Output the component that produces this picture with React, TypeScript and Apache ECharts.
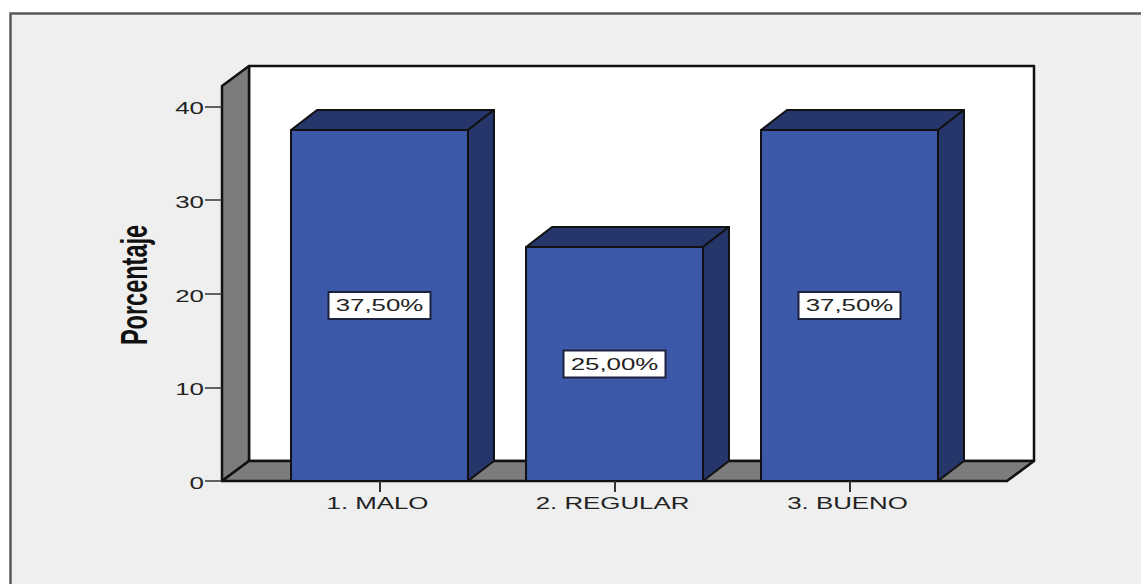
import React, { useEffect, useRef } from "react";
import * as echarts from "echarts";

const categories = ["1. MALO", "2. REGULAR", "3. BUENO"];
const percentages = [37.5, 25, 37.5];
const yTicks = [0, 10, 20, 30, 40];
const yTitle = "Porcentaje";

const BLUE_FRONT = "#3c58a8";
const BLUE_SIDE = "#26366b";
const GREY = "#7c7c7c";
const INK = "#111111";
const TEXT = "#222222";
const FONT = "'Liberation Sans', Arial, sans-serif";
const WIDE = 1.52; // horizontal stretch of all horizontal text

const AXIS_OFFSET = 40; // gap between the first band and the wall's front edge
const WALL_DX = 27;
const BAR_DX = 26;
const DEPTH_DY = -20;

const wideText = (text: string, x: number, y: number, align: string) => ({
  type: "text",
  x,
  y,
  scaleX: WIDE,
  silent: true,
  style: {
    text,
    align,
    verticalAlign: "middle",
    fontFamily: FONT,
    fontSize: 17,
    fill: TEXT,
  },
});

const face = (points: number[][], fill: string, lineWidth = 2) => ({
  type: "polygon",
  shape: { points },
  style: { fill, stroke: INK, lineWidth, lineJoin: "round" },
});

// Back wall, left wall and floor of the 3D box behind the bars
const renderRoom = (params: any, api: any) => {
  const cs = params.coordSys;
  const left = cs.x - AXIS_OFFSET;
  const right = cs.x + cs.width + AXIS_OFFSET;
  const top = cs.y;
  const base = cs.y + cs.height;
  const dx = WALL_DX;
  const dy = DEPTH_DY;
  return {
    type: "group",
    children: [
      face([[left + dx, top + dy], [right + dx, top + dy], [right + dx, base + dy], [left + dx, base + dy]], "#ffffff", 2.5),
      face([[left, top], [left + dx, top + dy], [left + dx, base + dy], [left, base]], GREY, 2.5),
      face([[left, base], [left + dx, base + dy], [right + dx, base + dy], [right, base]], GREY, 2.5),
    ],
  };
};

// One 3D bar: front, top and side faces plus its boxed percentage
const renderBar = (_params: any, api: any) => {
  const cat = api.value(0);
  const val = api.value(1);
  const [cx, yTop] = api.coord([cat, val]);
  const [, yBase] = api.coord([cat, 0]);
  const half = (api.size([1, 0])[0] * 0.753) / 2;
  const x0 = cx - half;
  const x1 = cx + half;
  const dx = BAR_DX;
  const dy = DEPTH_DY;
  const midY = (yTop + yBase) / 2;
  const label = val.toFixed(2).replace(".", ",") + "%";
  return {
    type: "group",
    children: [
      face([[x0, yTop], [x0 + dx, yTop + dy], [x1 + dx, yTop + dy], [x1, yTop]], BLUE_SIDE),
      face([[x1, yTop], [x1 + dx, yTop + dy], [x1 + dx, yBase + dy], [x1, yBase]], BLUE_SIDE),
      face([[x0, yTop], [x1, yTop], [x1, yBase], [x0, yBase]], BLUE_FRONT),
      {
        type: "rect",
        shape: { x: cx - 51, y: midY - 13.5, width: 102, height: 27 },
        style: { fill: "#ffffff", stroke: "#1c2340", lineWidth: 2 },
      },
      wideText(label, cx, midY, "center"),
    ],
  };
};

const renderCategoryLabel = (_params: any, api: any) => {
  const [cx] = api.coord([api.value(0), 0]);
  const cs = _params.coordSys;
  return wideText(categories[api.value(0)], cx - 2, cs.y + cs.height + 22, "center");
};

const renderTickLabel = (_params: any, api: any) => {
  const [, y] = api.coord([0, api.value(0)]);
  return wideText(String(api.value(0)), _params.coordSys.x - AXIS_OFFSET - 18, y + 2, "right");
};

export default function App() {
  const ref = useRef<HTMLDivElement>(null);

  useEffect(() => {
    const chart = echarts.init(ref.current!, null, { renderer: "svg" });
    chart.setOption({
      animation: false,
      backgroundColor: "#ffffff",
      graphic: [
        {
          type: "rect",
          shape: { x: 10.5, y: 13.5, width: 1300, height: 800 },
          style: { fill: "#efefef", stroke: "#5a5a5a", lineWidth: 2.5 },
          silent: true,
        },
        {
          type: "text",
          x: 134,
          y: 285,
          rotation: Math.PI / 2,
          scaleY: 1.6,
          z: 5,
          silent: true,
          style: {
            text: yTitle,
            align: "center",
            verticalAlign: "middle",
            fontFamily: FONT,
            fontWeight: "bold",
            fontSize: 23.5,
            fill: "#111111",
          },
        },
      ],
      grid: { left: 262, top: 86, width: 705, height: 395 },
      xAxis: {
        type: "category",
        data: categories,
        z: 5,
        axisLine: { show: false },
        axisLabel: { show: false },
        axisTick: {
          show: true,
          alignWithLabel: true,
          length: 11,
          lineStyle: { color: "#333333", width: 2 },
        },
      },
      yAxis: {
        type: "value",
        min: 0,
        max: 42.2,
        interval: 10,
        offset: AXIS_OFFSET,
        z: 5,
        splitLine: { show: false },
        axisLine: { show: false },
        axisLabel: { show: false },
        axisTick: {
          show: true,
          customValues: yTicks,
          length: 17,
          lineStyle: { color: "#333333", width: 1.5 },
        },
      },
      series: [
        { type: "custom", z: 2, silent: true, renderItem: renderRoom, data: [[0]] },
        {
          type: "custom",
          z: 3,
          silent: true,
          renderItem: renderBar,
          encode: { x: 0, y: 1 },
          data: percentages.map((v, i) => [i, v]),
        },
        {
          type: "custom",
          z: 4,
          silent: true,
          renderItem: renderCategoryLabel,
          encode: { x: 0 },
          data: categories.map((_c, i) => [i]),
        },
        {
          type: "custom",
          z: 4,
          silent: true,
          renderItem: renderTickLabel,
          encode: { y: 0 },
          data: yTicks.map((t) => [t]),
        },
      ],
    });
    return () => chart.dispose();
  }, []);

  return (
    <div
      ref={ref}
      style={{ position: "absolute", left: 0, top: 0, width: 1141, height: 584 }}
    />
  );
}
